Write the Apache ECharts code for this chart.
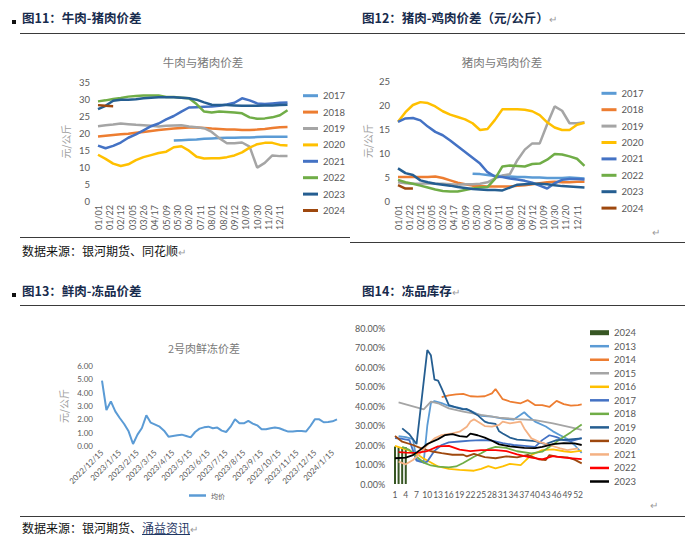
<!DOCTYPE html>
<html><head><meta charset="utf-8">
<script src="https://cdn.jsdelivr.net/npm/echarts/dist/echarts.min.js"></script>
<style>
html,body{margin:0;padding:0;background:#fff;}
#page{position:relative;width:700px;height:548px;overflow:hidden;font-family:"Noto Sans CJK SC",sans-serif;background:#fff;}
.chart{position:absolute;left:0;top:0;width:700px;height:548px;}
.hd{position:absolute;font-weight:bold;font-size:12.5px;color:#172b4d;white-space:nowrap;line-height:16px;}
.bullet{position:absolute;width:4px;height:4px;background:#111;}
.rule{position:absolute;height:0;border-top:1.4px solid #3a3a3a;}
.src{position:absolute;font-size:12px;color:#111;white-space:nowrap;line-height:16px;}
.ret{color:#9a9a9a;font-size:10px;font-weight:normal;}
.abs{position:absolute;}
u{color:#1f3864;text-decoration:underline;}
</style></head>
<body><div id="page">
<div class="chart" id="c1"></div>
<div class="chart" id="c2"></div>
<div class="chart" id="c3"></div>
<div class="chart" id="c4"></div>
<div class="bullet" style="left:12px;top:20px"></div>
<div class="hd" style="left:22px;top:10px">图11：牛肉-猪肉价差</div>
<div class="hd" style="left:362px;top:10px">图12：猪肉-鸡肉价差（元/公斤）<span class="ret">↵</span></div>
<div class="rule" style="left:20px;top:33px;width:665px"></div>
<div class="rule" style="left:20px;top:237px;width:330px"></div>
<div class="src" style="left:22px;top:243px">数据来源：银河期货、同花顺<span class="ret">↵</span></div>
<div class="ret abs" style="left:652px;top:224px">↵</div>
<div class="rule" style="left:350px;top:242px;width:335px"></div>
<div class="bullet" style="left:12px;top:293px"></div>
<div class="hd" style="left:22px;top:283px">图13：鲜肉-冻品价差</div>
<div class="hd" style="left:362px;top:283px">图14：冻品库存<span class="ret">↵</span></div>
<div class="rule" style="left:20px;top:305px;width:665px"></div>
<div class="ret abs" style="left:650px;top:497px">↵</div>
<div class="rule" style="left:20px;top:516px;width:665px"></div>
<div class="src" style="left:22px;top:520px">数据来源：银河期货、<u>涌益资讯</u><span class="ret">↵</span></div>
</div>
<script>
// ---------- shared tick labels ----------
const dateTicks = ['01/01','01/22','02/12','03/05','03/26','04/17','05/09','05/30','06/20','07/11','08/01','08/22','09/12','10/09','10/30','11/20','12/11'];
const sampleWeeks = [0,2,4,6,8,10,12,14,16,18,20,22,24,26,28,30,32,34,36,38,40,42,44,46,48,50];
const yearNames = ['2017','2018','2019','2020','2021','2022','2023','2024'];

// ---------- chart 1: beef - pork spread ----------
const bp2017 = [null,null,null,null,null,null,null,null,null,null,17.8,17.9,18.0,18.1,18.3,18.4,18.5,18.6,18.6,18.7,18.7,18.8,18.9,18.9,18.9,18.9];
const bp2018 = [19.0,19.2,19.4,19.6,19.8,20.1,20.3,20.6,20.9,21.1,21.3,21.5,21.6,21.6,21.5,21.3,21.2,21.0,21.0,20.9,20.9,21.0,21.2,21.5,21.7,21.8];
const bp2019 = [22.0,22.3,22.5,22.8,22.6,22.4,22.3,22.1,21.9,22.1,22.2,22.3,21.9,21.7,21.4,20.3,18.5,17.0,17.0,17.2,16.0,9.8,11.2,13.4,13.2,13.2];
const bp2020 = [13.6,12.4,11.0,10.3,10.8,12.0,12.9,13.5,14.1,14.5,15.8,16.1,14.8,13.0,12.5,12.6,12.6,12.9,13.4,14.3,15.7,16.7,17.1,17.1,16.5,16.3];
const bp2021 = [16.3,15.5,16.2,17.2,18.6,19.6,20.8,22.0,22.8,24.0,25.0,26.3,27.5,27.6,27.7,27.8,28.0,28.4,28.9,30.2,29.6,28.7,28.5,28.7,28.9,29.0];
const bp2022 = [29.3,29.6,30.0,30.3,30.7,30.9,31.0,31.0,31.0,30.6,30.6,30.4,30.2,28.5,26.3,26.0,26.3,26.2,26.0,25.8,24.6,24.2,24.3,24.6,25.2,26.7];
const bp2023 = [27.0,28.0,29.5,29.8,29.8,29.9,30.2,30.4,30.5,30.5,30.5,30.4,30.2,29.8,29.0,28.3,28.2,28.2,28.1,28.0,28.0,28.0,28.1,28.1,28.2,28.3];
const bp2024 = [28.2,28.0,27.9];

// ---------- chart 2: pork - chicken spread ----------
const pc2017 = [null,null,null,null,null,null,null,null,null,null,5.7,5.6,5.4,5.2,5.2,5.1,5.0,5.0,4.9,4.9,4.8,4.8,4.8,4.9,4.8,4.7];
const pc2018 = [5.0,5.0,5.0,5.0,5.0,5.1,4.8,4.3,3.8,3.5,3.2,3.1,3.0,3.0,3.0,3.0,3.2,3.3,3.5,3.7,3.9,4.0,3.9,3.9,4.0,4.0];
const pc2019 = [3.9,3.7,3.6,3.6,3.7,3.6,3.6,3.5,3.4,3.5,3.5,3.6,3.9,4.7,5.3,5.6,8.5,10.7,12.0,12.0,16.0,19.7,18.8,16.2,16.2,16.4];
const pc2020 = [16.5,18.5,20.0,20.6,20.4,19.7,18.7,18.0,17.5,17.0,16.2,14.8,15.0,16.9,19.1,19.1,19.1,19.0,18.7,17.9,16.4,15.3,14.8,14.8,15.9,16.3];
const pc2021 = [16.5,17.2,17.3,16.8,15.5,14.4,13.7,12.6,11.4,10.2,9.0,7.8,6.0,5.1,5.0,4.7,4.5,4.2,3.8,3.2,2.6,3.7,4.4,4.6,4.6,4.5];
const pc2022 = [4.4,3.9,3.6,3.2,2.8,2.4,2.1,2.0,2.0,2.3,2.6,2.8,2.9,4.6,7.2,7.4,7.3,7.2,7.7,7.8,8.6,9.8,9.7,9.3,8.8,7.3];
const pc2023 = [6.8,5.8,5.4,4.3,3.9,3.6,3.4,3.2,2.9,2.7,2.5,2.4,2.3,2.3,2.2,2.8,3.4,3.5,3.6,3.6,3.5,3.3,3.1,3.0,2.9,2.8];
const pc2024 = [3.3,2.6,2.6];

// ---------- chart 3: fresh - frozen spread ----------
const monthTicks = ['2022/12/15','2023/1/15','2023/2/15','2023/3/15','2023/4/15','2023/5/15','2023/6/15','2023/7/15','2023/8/15','2023/9/15','2023/10/15','2023/11/15','2023/12/15','2024/1/15'];
const freshFrozen = [4.9,2.7,3.35,2.6,2.1,1.65,1.1,0.15,0.85,1.35,2.3,1.75,1.6,1.45,1.15,0.7,0.75,0.8,0.85,0.75,0.65,1.05,1.3,1.4,1.45,1.33,1.38,1.15,1.05,1.45,2.0,1.7,1.7,1.88,1.68,1.55,1.25,1.25,1.33,1.38,1.33,1.2,1.08,1.08,1.12,1.12,1.08,1.5,2.0,2.0,1.78,1.8,1.85,2.0];

// ---------- chart 4: frozen inventory (week, %) ----------
const invWeeks = Array.from({length:53},(_,i)=>String(i+1));
const inv2024 = [[1,19.2],[2,18.7],[3,18.9],[4,18.9]];
const inv2013 = [[2,24.5],[4,24],[6,23],[7,12.5],[9,11.5],[10,30],[11,41.5],[12,42.5],[14,41.5],[16,40],[19,39],[22,37.5],[25,35],[28,34.5],[31,33.5],[34,33],[36,35.5],[37,36.8],[38,35],[40,32],[43,29.5],[45,27],[47,25],[49,23],[51,20],[53,16]];
const inv2014 = [[14,44.5],[16,45.5],[18,46],[20,46.2],[22,45],[24,44.8],[26,45],[28,46.5],[29,48.7],[31,43.5],[33,42.3],[36,41.4],[38,43],[40,40.5],[42,40.5],[44,39.5],[46,42.6],[48,41],[50,40.2],[52,40.5],[53,40.8]];
const inv2015 = [[2,41.8],[9,38.3],[11,42.2],[13,41.4],[16,38.8],[20,37.1],[25,35.4],[30,34],[35,33.3],[40,32.8],[45,31.1],[50,29.1],[53,27.7]];
const inv2016 = [[1,19.5],[4,17.8],[7,15.5],[9,13],[11,11],[13,9],[16,7.8],[19,7.2],[23,6.8],[25,7.8],[27,9.2],[29,8],[31,9],[33,10.3],[36,9.7],[39,14.9],[42,17.4],[45,17.8],[48,16.8],[50,16.4],[53,17.1]];
const inv2017 = [[1,23.5],[3,23.2],[5,22.5],[7,12],[9,11],[10,11.5],[12,17],[14,20],[16,21.3],[19,21.8],[22,22.2],[25,22.5],[28,22.3],[31,21],[34,20],[37,19.5],[40,19],[42,22.5],[44,25],[46,24],[48,22.5],[50,22],[53,23.5]];
const inv2018 = [[3,19],[5,17.5],[7,14],[9,11],[11,9.5],[13,8.9],[16,8.5],[18,9],[20,10.8],[23,14],[25,15.8],[27,17.9],[29,19],[32,18.5],[35,16.8],[39,15.7],[42,16.6],[45,20.2],[47,23],[50,26.6],[53,30.5]];
const inv2019 = [[3,28.5],[5,25.5],[7,20.5],[10,68.7],[11,66],[12,53.5],[13,53],[14,49],[16,40.5],[18,39.3],[20,38.3],[21,38.5],[22,37.5],[24,35.3],[26,32],[27,31.3],[29,30.8],[30,27],[31,25.9],[33,23.8],[35,22.8],[37,22.5],[40,22],[43,20.5],[46,22.5],[49,22.8],[53,23.4]];
const inv2020 = [[1,24.6],[3,21.7],[6,20],[8,18.5],[11,16.8],[14,15.8],[17,15],[20,15],[21,14.2],[23,15.4],[26,13.8],[29,13.2],[32,14.2],[35,13.6],[38,14.9],[41,12.7],[43,12.3],[44,14.8],[46,14],[49,13.7],[51,12.5],[53,10.6]];
const inv2021 = [[2,11.5],[4,10.1],[6,12.3],[8,15.7],[10,20],[12,23.4],[14,25.1],[17,26],[19,26.8],[21,29.4],[22,32],[23,33.2],[24,32],[26,29.7],[28,29.4],[30,30.3],[31,32],[33,31.1],[36,32],[37,28.5],[39,23.4],[41,21.7],[44,20],[47,18.3],[49,17.4],[52,18.3]];
const inv2022 = [[2,16.3],[4,16.1],[7,16],[10,16.9],[13,19.3],[16,19.6],[19,17.6],[22,16.9],[25,17.4],[29,17.4],[32,16.9],[35,15.2],[39,13.5],[42,12.6],[45,14.3],[48,13.5],[53,12.8]];
const inv2023 = [[1,13.2],[4,13.5],[6,14.8],[8,17.5],[10,20.5],[13,23],[15,25.1],[17,25.6],[19,24.6],[21,24.2],[22,25.8],[24,25],[26,23.8],[28,22.2],[30,20.3],[33,19.3],[37,18.5],[40,18.4],[42,19],[45,20.5],[48,21],[51,20.8],[53,20]];

// ---------- styling ----------
const CJK = '"Noto Sans CJK SC", sans-serif';
const NUM = 'Lato, "Noto Sans CJK SC", sans-serif';
const AX = '#595959';
const yearColors = ['#5B9BD5','#ED7D31','#A5A5A5','#FFC000','#4472C4','#70AD47','#255E91','#9E480E'];

function mk(id, opt){
  const c = echarts.init(document.getElementById(id), null, {renderer:'svg', width:700, height:548});
  c.setOption(Object.assign({backgroundColor:'transparent', animation:false}, opt));
}
function line(name, data, color, width){
  return {name, type:'line', data, showSymbol:false, symbol:'none', connectNulls:true,
    lineStyle:{color, width}, itemStyle:{color}, emphasis:{disabled:true}};
}
const cat52 = Array.from({length:52},(_,i)=> (i%3===0 && i/3 < dateTicks.length) ? dateTicks[i/3] : '');

function yearChart(id, title, titleX, grid, ymax, yGap, lists, legendLeft, legendTop){
  return mk(id, {
    title:{text:title, left:titleX, top:62, textAlign:'center', textVerticalAlign:'middle', padding:0,
      textStyle:{fontSize:11.5, fontWeight:'normal', color:'#7a7a7a', fontFamily:CJK}},
    grid:Object.assign({containLabel:false, outerBoundsMode:'none'}, grid),
    xAxis:{type:'category', data:cat52, boundaryGap:false, axisLine:{show:false}, axisTick:{show:false}, splitLine:{show:false},
      axisLabel:{interval:2, rotate:90, fontSize:9, color:AX, margin:4, fontFamily:NUM}},
    yAxis:{type:'value', min:0, max:ymax, interval:5, axisLine:{show:false}, axisTick:{show:false}, splitLine:{show:false},
      axisLabel:{fontSize:9.5, color:AX, margin:8, fontFamily:NUM},
      name:'元/公斤', nameLocation:'middle', nameRotate:90, nameGap:yGap, nameTextStyle:{fontSize:10, color:'#a0a0a0', fontFamily:CJK}},
    legend:{orient:'vertical', left:legendLeft, top:legendTop, padding:0, itemWidth:15, itemHeight:3, itemGap:4.4, icon:'rect',
      selectedMode:false, data:yearNames, textStyle:{fontSize:9.5, color:AX, lineHeight:12, fontFamily:NUM}},
    series: yearNames.map((y,k)=> line(y, lists[k].map((v,i)=>[sampleWeeks[i], v]), yearColors[k], 2.5))
  });
}

yearChart('c1','牛肉与猪肉价差',203,{left:98, top:82, width:193.3, height:119},35,28,
  [bp2017,bp2018,bp2019,bp2020,bp2021,bp2022,bp2023,bp2024],303,89.7);
yearChart('c2','猪肉与鸡肉价差',502,{left:398, top:81, width:190.2, height:120},25,26,
  [pc2017,pc2018,pc2019,pc2020,pc2021,pc2022,pc2023,pc2024],601.5,87.3);

// chart 3
const cat54 = Array.from({length:54},(_,i)=> (i%4===0 && i/4 < monthTicks.length) ? monthTicks[i/4] : '');
mk('c3', {
  title:{text:'2号肉鲜冻价差', left:204, top:348, textAlign:'center', textVerticalAlign:'middle', padding:0,
    textStyle:{fontSize:11, fontWeight:'normal', color:'#7a7a7a', fontFamily:CJK}},
  grid:{left:102, top:366, width:235, height:80, containLabel:false, outerBoundsMode:'none'},
  xAxis:{type:'category', data:cat54, boundaryGap:false, axisLine:{show:false}, axisTick:{show:false},
    axisLabel:{interval:3, rotate:45, fontSize:8, color:AX, margin:5, fontFamily:NUM}},
  yAxis:{type:'value', min:0, max:6, interval:1, axisLine:{show:false}, axisTick:{show:false}, splitLine:{show:false},
    axisLabel:{fontSize:8, color:AX, margin:9, fontFamily:NUM, formatter:v=>v.toFixed(2)},
    name:'元/公斤', nameLocation:'middle', nameRotate:90, nameGap:34, nameTextStyle:{fontSize:10, color:'#a0a0a0', fontFamily:CJK}},
  legend:{left:189, top:492, padding:0, itemWidth:17, itemHeight:2.5, icon:'rect', selectedMode:false, data:['均价'],
    textStyle:{fontSize:7, color:AX, fontFamily:CJK}},
  series:[line('均价', freshFrozen, '#5B9BD5', 2)]
});

// chart 4
const invNames = ['2013','2014','2015','2016','2017','2018','2019','2020','2021','2022','2023'];
const invLists = [inv2013,inv2014,inv2015,inv2016,inv2017,inv2018,inv2019,inv2020,inv2021,inv2022,inv2023];
const invColors = ['#5B9BD5','#ED7D31','#A5A5A5','#FFC000','#4472C4','#70AD47','#255E91','#9E480E','#F4B183','#FF0000','#000000'];
mk('c4', {
  grid:{left:393.2, top:328, width:190.3, height:156, containLabel:false, outerBoundsMode:'none'},
  xAxis:{type:'category', data:invWeeks, boundaryGap:true, axisLine:{show:false}, axisTick:{show:false},
    axisLabel:{interval:2, fontSize:8.5, color:AX, margin:7, fontFamily:NUM}},
  yAxis:{type:'value', min:0, max:80, interval:10, axisLine:{show:false}, axisTick:{show:false}, splitLine:{show:false},
    axisLabel:{fontSize:9, color:AX, margin:8, fontFamily:NUM, formatter:v=>v.toFixed(2)+'%'}},
  legend:[
    {orient:'vertical', left:590, top:327.2, padding:0, itemWidth:19, itemHeight:5, icon:'rect', selectedMode:false, data:['2024'],
      textStyle:{fontSize:9.5, color:AX, lineHeight:11, fontFamily:NUM}},
    {orient:'vertical', left:590, top:340.7, padding:0, itemWidth:19, itemHeight:2.5, itemGap:2.53, icon:'rect', selectedMode:false, data:invNames,
      textStyle:{fontSize:9.5, color:AX, lineHeight:11, fontFamily:NUM}}
  ],
  series:[{name:'2024', type:'bar', barWidth:2, data:inv2024.map(([w,v])=>[w-1,v]), itemStyle:{color:'#375623'}, emphasis:{disabled:true}}]
    .concat(invNames.map((n,k)=> line(n, invLists[k].map(([w,v])=>[w-1,v]), invColors[k], 1.8)))
});
</script>
</body></html>
